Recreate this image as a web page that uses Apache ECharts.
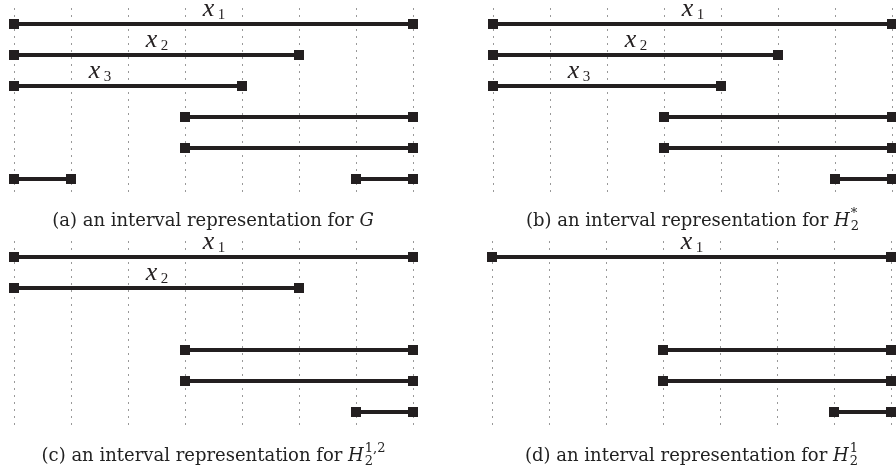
<!DOCTYPE html>
<html><head><meta charset="utf-8">
<script src="https://cdn.jsdelivr.net/npm/echarts@6/dist/echarts.min.js"></script>
<style>html,body{margin:0;padding:0;background:#fff}#c{width:896px;height:475px}</style>
</head><body><div id="c"></div>
<script>
// ---- data ----
const tickValues = [0, 1, 2, 3, 4, 5, 6, 7];
const rowCount = 6;
// intervals: [start, end, row]
const intervalsA = [[0,7,1],[0,5,2],[0,4,3],[3,7,4],[3,7,5],[0,1,6],[6,7,6]];
const intervalsB = [[0,7,1],[0,5,2],[0,4,3],[3,7,4],[3,7,5],[6,7,6]];
const intervalsC = [[0,7,1],[0,5,2],[3,7,4],[3,7,5],[6,7,6]];
const intervalsD = [[0,7,1],[3,7,4],[3,7,5],[6,7,6]];
// labels: [x position, row, subscript]
const labelsA = [[3.5,1,'1'],[2.5,2,'2'],[1.5,3,'3']];
const labelsB = [[3.5,1,'1'],[2.5,2,'2'],[1.5,3,'3']];
const labelsC = [[3.5,1,'1'],[2.5,2,'2']];
const labelsD = [[3.5,1,'1']];
// captions
const captionMain = ['(a) an interval representation for ', '(b) an interval representation for ', '(c) an interval representation for ', '(d) an interval representation for '];
const captionVar = ['G', 'H', 'H', 'H'];
const captionSub = ['', '2', '2', '2'];
const captionSup = ['', '*', '1,2', '1'];

// ---- layout ----
const panels = [
  {left: 14, top: 8.5, width: 399, height: 186, capY: 221, intervals: intervalsA, labels: labelsA},
  {left: 493, top: 8.5, width: 399, height: 186, capY: 221, intervals: intervalsB, labels: labelsB},
  {left: 14, top: 241.5, width: 399, height: 186, capY: 456, intervals: intervalsC, labels: labelsC},
  {left: 492, top: 241.5, width: 399, height: 186, capY: 456, intervals: intervalsD, labels: labelsD}
];
const INK = '#231f20';
const capFont = 'DejaVu Serif';
const capSize = 18;
const labFont = 'Liberation Serif';

const chart = echarts.init(document.getElementById('c'), null, {renderer: 'canvas'});

function renderInterval(params, api) {
  const s = api.coord([api.value(0), api.value(2)]);
  const e = api.coord([api.value(1), api.value(2)]);
  const h = 5;
  return {type: 'group', children: [
    {type: 'line', shape: {x1: s[0], y1: s[1], x2: e[0], y2: e[1]}, style: {stroke: INK, lineWidth: 4}},
    {type: 'rect', shape: {x: s[0]-h, y: s[1]-h, width: 2*h, height: 2*h}, style: {fill: INK}},
    {type: 'rect', shape: {x: e[0]-h, y: e[1]-h, width: 2*h, height: 2*h}, style: {fill: INK}}
  ]};
}
function renderLabel(params, api) {
  const p = api.coord([api.value(0), api.value(1)]);
  return {type: 'group', children: [
    {type: 'text', x: p[0]-5, y: p[1]-15, style: {text: 'x', font: 'italic 26px "' + labFont + '"', fill: INK, align: 'center', verticalAlign: 'middle'}},
    {type: 'text', x: p[0]+8, y: p[1]-9, style: {text: api.value(2) + '', font: '15px "' + labFont + '"', fill: INK, align: 'center', verticalAlign: 'middle'}}
  ]};
}

const grids = [], xAxes = [], yAxes = [], series = [];
panels.forEach((p, i) => {
  grids.push({left: p.left, top: p.top, width: p.width, height: p.height, containLabel: false});
  xAxes.push({type: 'value', gridIndex: i, min: tickValues[0], max: tickValues[tickValues.length-1], interval: 1,
    axisLine: {show: false}, axisTick: {show: false}, axisLabel: {show: false},
    splitLine: {show: true, lineStyle: {color: '#333', width: 1, type: [1, 6]}}});
  yAxes.push({type: 'value', gridIndex: i, min: 0.5, max: rowCount + 0.5, inverse: true,
    axisLine: {show: false}, axisTick: {show: false}, axisLabel: {show: false}, splitLine: {show: false}});
  series.push({type: 'custom', xAxisIndex: i, yAxisIndex: i, renderItem: renderInterval,
    encode: {x: [0, 1], y: 2}, data: p.intervals, silent: true, clip: false});
  series.push({type: 'custom', xAxisIndex: i, yAxisIndex: i, renderItem: renderLabel,
    encode: {x: 0, y: 1}, data: p.labels, silent: true, clip: false});
});

// captions
const mc = document.createElement('canvas').getContext('2d');
function tw(text, font) { mc.font = font; return mc.measureText(text).width; }
const graphics = [];
panels.forEach((p, i) => {
  const fMain = capSize + 'px "' + capFont + '"';
  const fVar = 'italic ' + capSize + 'px "' + capFont + '"';
  const fSmall = Math.round(capSize * 0.7) + 'px "' + capFont + '"';
  const wMain = tw(captionMain[i], fMain);
  const wVar = tw(captionVar[i], fVar);
  const wScr = Math.max(tw(captionSub[i], fSmall), tw(captionSup[i], fSmall));
  const cx = p.left + p.width / 2;
  const x0 = cx - (wMain + wVar + wScr + 1) / 2;
  graphics.push({type: 'text', x: x0, y: p.capY, style: {text: captionMain[i], font: fMain, fill: '#222', verticalAlign: 'middle'}});
  graphics.push({type: 'text', x: x0 + wMain, y: p.capY, style: {text: captionVar[i], font: fVar, fill: '#222', verticalAlign: 'middle'}});
  if (captionSub[i]) graphics.push({type: 'text', x: x0 + wMain + wVar + 1, y: p.capY + 6, style: {text: captionSub[i], font: fSmall, fill: '#222', verticalAlign: 'middle'}});
  if (captionSup[i]) graphics.push({type: 'text', x: x0 + wMain + wVar + 1, y: p.capY - 7, style: {text: captionSup[i], font: fSmall, fill: '#222', verticalAlign: 'middle'}});
});

chart.setOption({
  animation: false,
  backgroundColor: '#fff',
  grid: grids, xAxis: xAxes, yAxis: yAxes, series: series,
  graphic: graphics
});
</script></body></html>
